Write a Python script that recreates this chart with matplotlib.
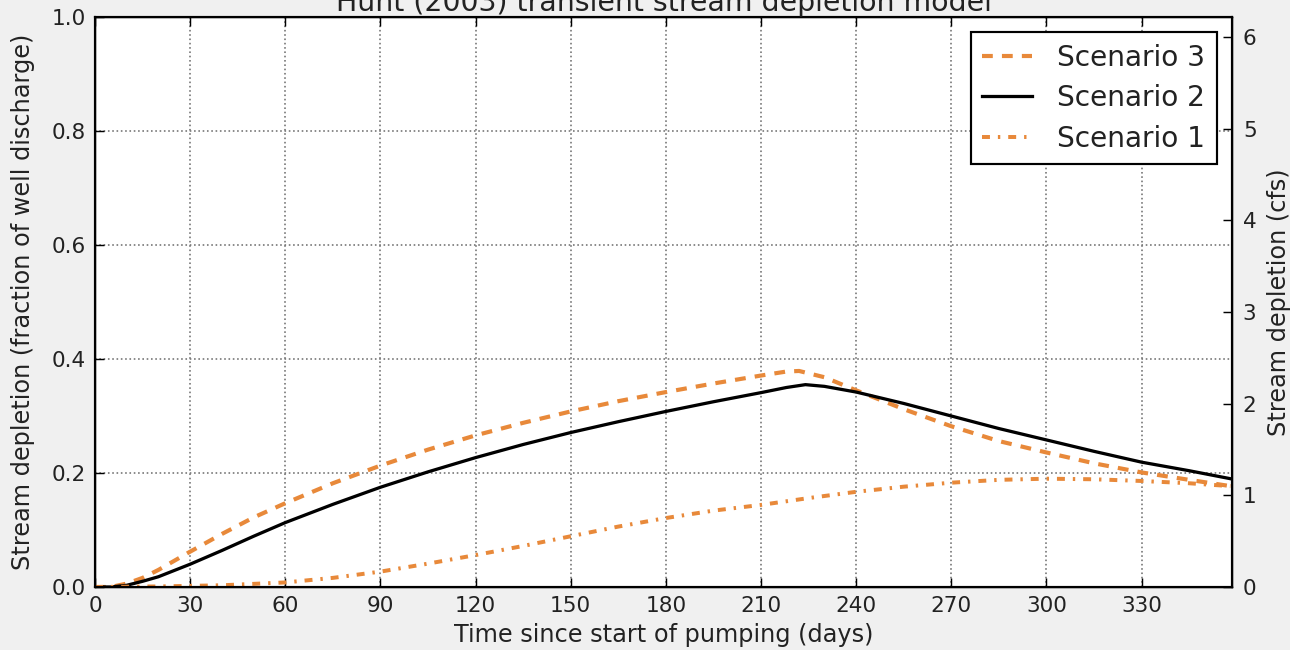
import matplotlib
matplotlib.use("Agg")
import matplotlib.pyplot as plt
import numpy as np

# ---- data ----
days_s3 = [0, 5, 10, 15, 20, 30, 40, 50, 60, 75, 90, 105, 120, 135, 150, 165, 180, 195,
           210, 218, 222, 230, 240, 255, 270, 285, 300, 315, 330, 345, 358]
scenario3 = [0, 0.0, 0.006, 0.016, 0.03, 0.062, 0.093, 0.122, 0.147, 0.182, 0.213, 0.241,
             0.266, 0.288, 0.308, 0.326, 0.342, 0.357, 0.371, 0.378, 0.379, 0.368, 0.345,
             0.312, 0.282, 0.256, 0.236, 0.217, 0.201, 0.188, 0.177]

days_s2 = [0, 5, 10, 15, 20, 30, 40, 50, 60, 75, 90, 105, 120, 135, 150, 165, 180, 195,
           210, 218, 224, 230, 240, 255, 270, 285, 300, 315, 330, 345, 358]
scenario2 = [0, 0.0, 0.003, 0.01, 0.018, 0.04, 0.064, 0.089, 0.113, 0.145, 0.175, 0.202,
             0.227, 0.25, 0.271, 0.29, 0.308, 0.325, 0.341, 0.35, 0.355, 0.352, 0.342,
             0.322, 0.30, 0.278, 0.258, 0.238, 0.219, 0.204, 0.19]

days_s1 = [0, 20, 40, 60, 75, 90, 105, 120, 135, 150, 165, 180, 195, 210, 225, 240, 255,
           270, 285, 300, 315, 330, 345, 358]
scenario1 = [0, 0.001, 0.003, 0.008, 0.016, 0.027, 0.041, 0.056, 0.072, 0.089, 0.106,
             0.121, 0.134, 0.144, 0.156, 0.167, 0.176, 0.183, 0.188, 0.19, 0.189, 0.186,
             0.182, 0.177]

well_discharge_cfs = 6.22
x_ticks = list(range(0, 331, 30))
left_ticks = [0.0, 0.2, 0.4, 0.6, 0.8, 1.0]
right_ticks = [0, 1, 2, 3, 4, 5, 6]

title = "Hunt (2003) transient stream depletion model"
xlabel = "Time since start of pumping (days)"
ylabel_left = "Stream depletion (fraction of well discharge)"
ylabel_right = "Stream depletion (cfs)"

orange = "#e8893a"
text_color = "#222222"

# ---- figure ----
dpi = 130
fig = plt.figure(figsize=(1290 / dpi, 650 / dpi), dpi=dpi, facecolor="#f0f0f0")
ax = fig.add_axes([95 / 1290, 63 / 650, (1232 - 95) / 1290, (587 - 17) / 650])
ax.set_facecolor("white")

l3, = ax.plot(days_s3, scenario3, color=orange, lw=2.3, dashes=(2.6, 2.2), label="Scenario 3")
l2, = ax.plot(days_s2, scenario2, color="black", lw=1.8, label="Scenario 2")
l1, = ax.plot(days_s1, scenario1, color=orange, lw=2.2, dashes=(2.0, 2.0, 0.6, 2.0),
              label="Scenario 1")

ax.set_xlim(0, 358.5)
ax.set_ylim(0, 1.0)
ax.set_xticks(x_ticks)
ax.set_yticks(left_ticks)
ax.grid(True, color="0.45", linestyle=":", linewidth=0.9)
ax.tick_params(direction="in", labelsize=12, top=True, length=5, pad=5,
               labelcolor=text_color)
ax.set_xlabel(xlabel, fontsize=13.3, labelpad=4, color=text_color)
ax.set_ylabel(ylabel_left, fontsize=13.3, labelpad=9, color=text_color)
for s in ax.spines.values():
    s.set_linewidth(1.2)

ax2 = ax.twinx()
ax2.set_ylim(0, well_discharge_cfs)
ax2.set_yticks(right_ticks)
ax2.tick_params(direction="in", labelsize=12, length=5, pad=6, labelcolor=text_color)
ax2.set_ylabel(ylabel_right, fontsize=13.3, labelpad=6, color=text_color)

ax.set_title(title, fontsize=15.7, pad=3, color=text_color)

leg = ax.legend(handles=[l3, l2, l1], loc="upper right", fontsize=15.5, fancybox=False,
                framealpha=1, edgecolor="black", handlelength=1.8, handletextpad=0.9,
                borderaxespad=0.55, labelspacing=0.45)
leg.get_frame().set_linewidth(1.2)
for t in leg.get_texts():
    t.set_color(text_color)

fig.savefig("out.png", dpi=dpi, facecolor=fig.get_facecolor())
